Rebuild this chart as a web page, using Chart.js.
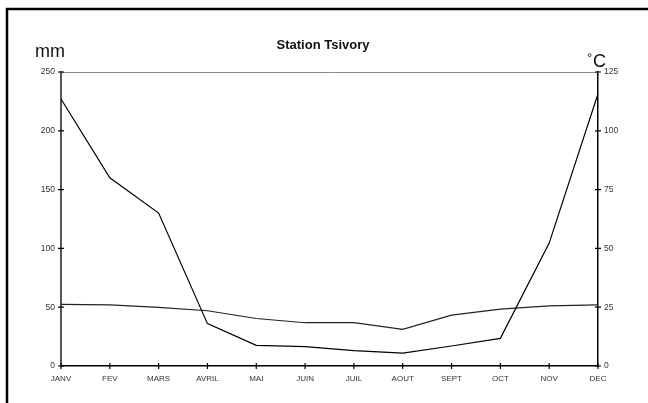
<!DOCTYPE html>
<html>
<head>
<meta charset="utf-8">
<script src="https://cdn.jsdelivr.net/npm/chart.js@4"></script>
<style>
  html, body { margin: 0; padding: 0; background: #fff; }
  #wrap { width: 648px; height: 403px; position: relative; }
</style>
</head>
<body>
<div id="wrap"><canvas id="climChart"></canvas></div>
<script>
// données climatiques - Station Tsivory
const months = ['JANV', 'FEV', 'MARS', 'AVRIL', 'MAI', 'JUIN', 'JUIL', 'AOUT', 'SEPT', 'OCT', 'NOV', 'DEC'];
const rainMm = [227, 160, 130, 36, 17.6, 16.5, 13, 11, 17, 23.5, 104.5, 231.5];
const tempC = [26.2, 26, 24.9, 23.5, 20.2, 18.4, 18.4, 15.6, 21.6, 24.2, 25.6, 26];
const mmTicks = [0, 50, 100, 150, 200, 250];
const degTicks = [0, 25, 50, 75, 100, 125];

const FONT = '"Liberation Sans", Arial, sans-serif';

// cadre, titre, unités et petites graduations croisées
const decorPlugin = {
  id: 'decor',
  afterDraw(chart) {
    const ctx = chart.ctx;
    const x = chart.scales.x, yl = chart.scales.y, yr = chart.scales.y2;
    ctx.save();
    ctx.strokeStyle = '#000';
    ctx.lineWidth = 2.5;
    ctx.beginPath();
    ctx.moveTo(7, 403);
    ctx.lineTo(7, 9);
    ctx.lineTo(648, 9);
    ctx.stroke();

    // ligne haute de la zone de tracé
    ctx.strokeStyle = '#888';
    ctx.lineWidth = 1;
    ctx.beginPath();
    ctx.moveTo(x.left, yl.top + 0.5);
    ctx.lineTo(x.right, yl.top + 0.5);
    ctx.stroke();

    ctx.strokeStyle = '#000';
    ctx.lineWidth = 1.2;
    ctx.beginPath();
    x.ticks.forEach((t, i) => {
      const px = x.getPixelForTick(i);
      ctx.moveTo(px, x.top - 3);
      ctx.lineTo(px, x.top + 3);
    });
    yl.ticks.forEach((t, i) => {
      const py = yl.getPixelForTick(i);
      ctx.moveTo(yl.right - 3, py);
      ctx.lineTo(yl.right + 3, py);
    });
    yr.ticks.forEach((t, i) => {
      const py = yr.getPixelForTick(i);
      ctx.moveTo(yr.left - 3, py);
      ctx.lineTo(yr.left + 3, py);
    });
    ctx.stroke();

    ctx.fillStyle = '#111';
    ctx.textBaseline = 'alphabetic';
    ctx.textAlign = 'center';
    ctx.font = 'bold 13px ' + FONT;
    ctx.fillText('Station Tsivory', 323, 49);
    ctx.textAlign = 'left';
    ctx.font = '18px ' + FONT;
    ctx.fillText('mm', 35, 57);
    ctx.fillText('C', 593, 67);
    ctx.font = '13px ' + FONT;
    ctx.fillText('°', 587, 62);
    ctx.restore();
  }
};

const ctx = document.getElementById('climChart').getContext('2d');
const chart = new Chart(ctx, {
  type: 'line',
  data: {
    labels: months,
    datasets: [{
      label: 'Pluie (mm)',
      data: rainMm,
      yAxisID: 'y',
      borderColor: '#000',
      borderWidth: 1.2,
      pointRadius: 0,
      tension: 0
    }, {
      label: 'Température (°C)',
      data: tempC,
      yAxisID: 'y2',
      borderColor: '#222',
      borderWidth: 1.2,
      pointRadius: 0,
      tension: 0
    }]
  },
  options: {
    responsive: true,
    maintainAspectRatio: false,
    animation: false,
    layout: { padding: { top: 72, left: 0, right: 0, bottom: 0 } },
    plugins: {
      legend: { display: false },
      title: { display: false },
      tooltip: { enabled: false }
    },
    scales: {
      x: {
        offset: false,
        grid: { display: false, drawTicks: false },
        border: { display: true, color: '#000', width: 1.5 },
        ticks: {
          autoSkip: false, maxRotation: 0, padding: 8,
          color: '#333', font: { family: FONT, size: 8 }
        },
        afterFit(scale) { scale.height = 37; }
      },
      y: {
        position: 'left',
        min: 0, max: 250,
        afterBuildTicks(scale) { scale.ticks = mmTicks.map(v => ({ value: v })); },
        grid: { display: false, drawTicks: false },
        border: { display: true, color: '#555', width: 2 },
        ticks: { padding: 6, color: '#333', font: { family: FONT, size: 8.5 } },
        afterFit(scale) { scale.width = 61; }
      },
      y2: {
        position: 'right',
        min: 0, max: 125,
        afterBuildTicks(scale) { scale.ticks = degTicks.map(v => ({ value: v })); },
        grid: { display: false, drawTicks: false },
        border: { display: true, color: '#000', width: 1.5 },
        ticks: { padding: 6, color: '#333', font: { family: FONT, size: 8.5 } },
        afterFit(scale) { scale.width = 50; }
      }
    }
  },
  plugins: [decorPlugin]
});
</script>
</body>
</html>
